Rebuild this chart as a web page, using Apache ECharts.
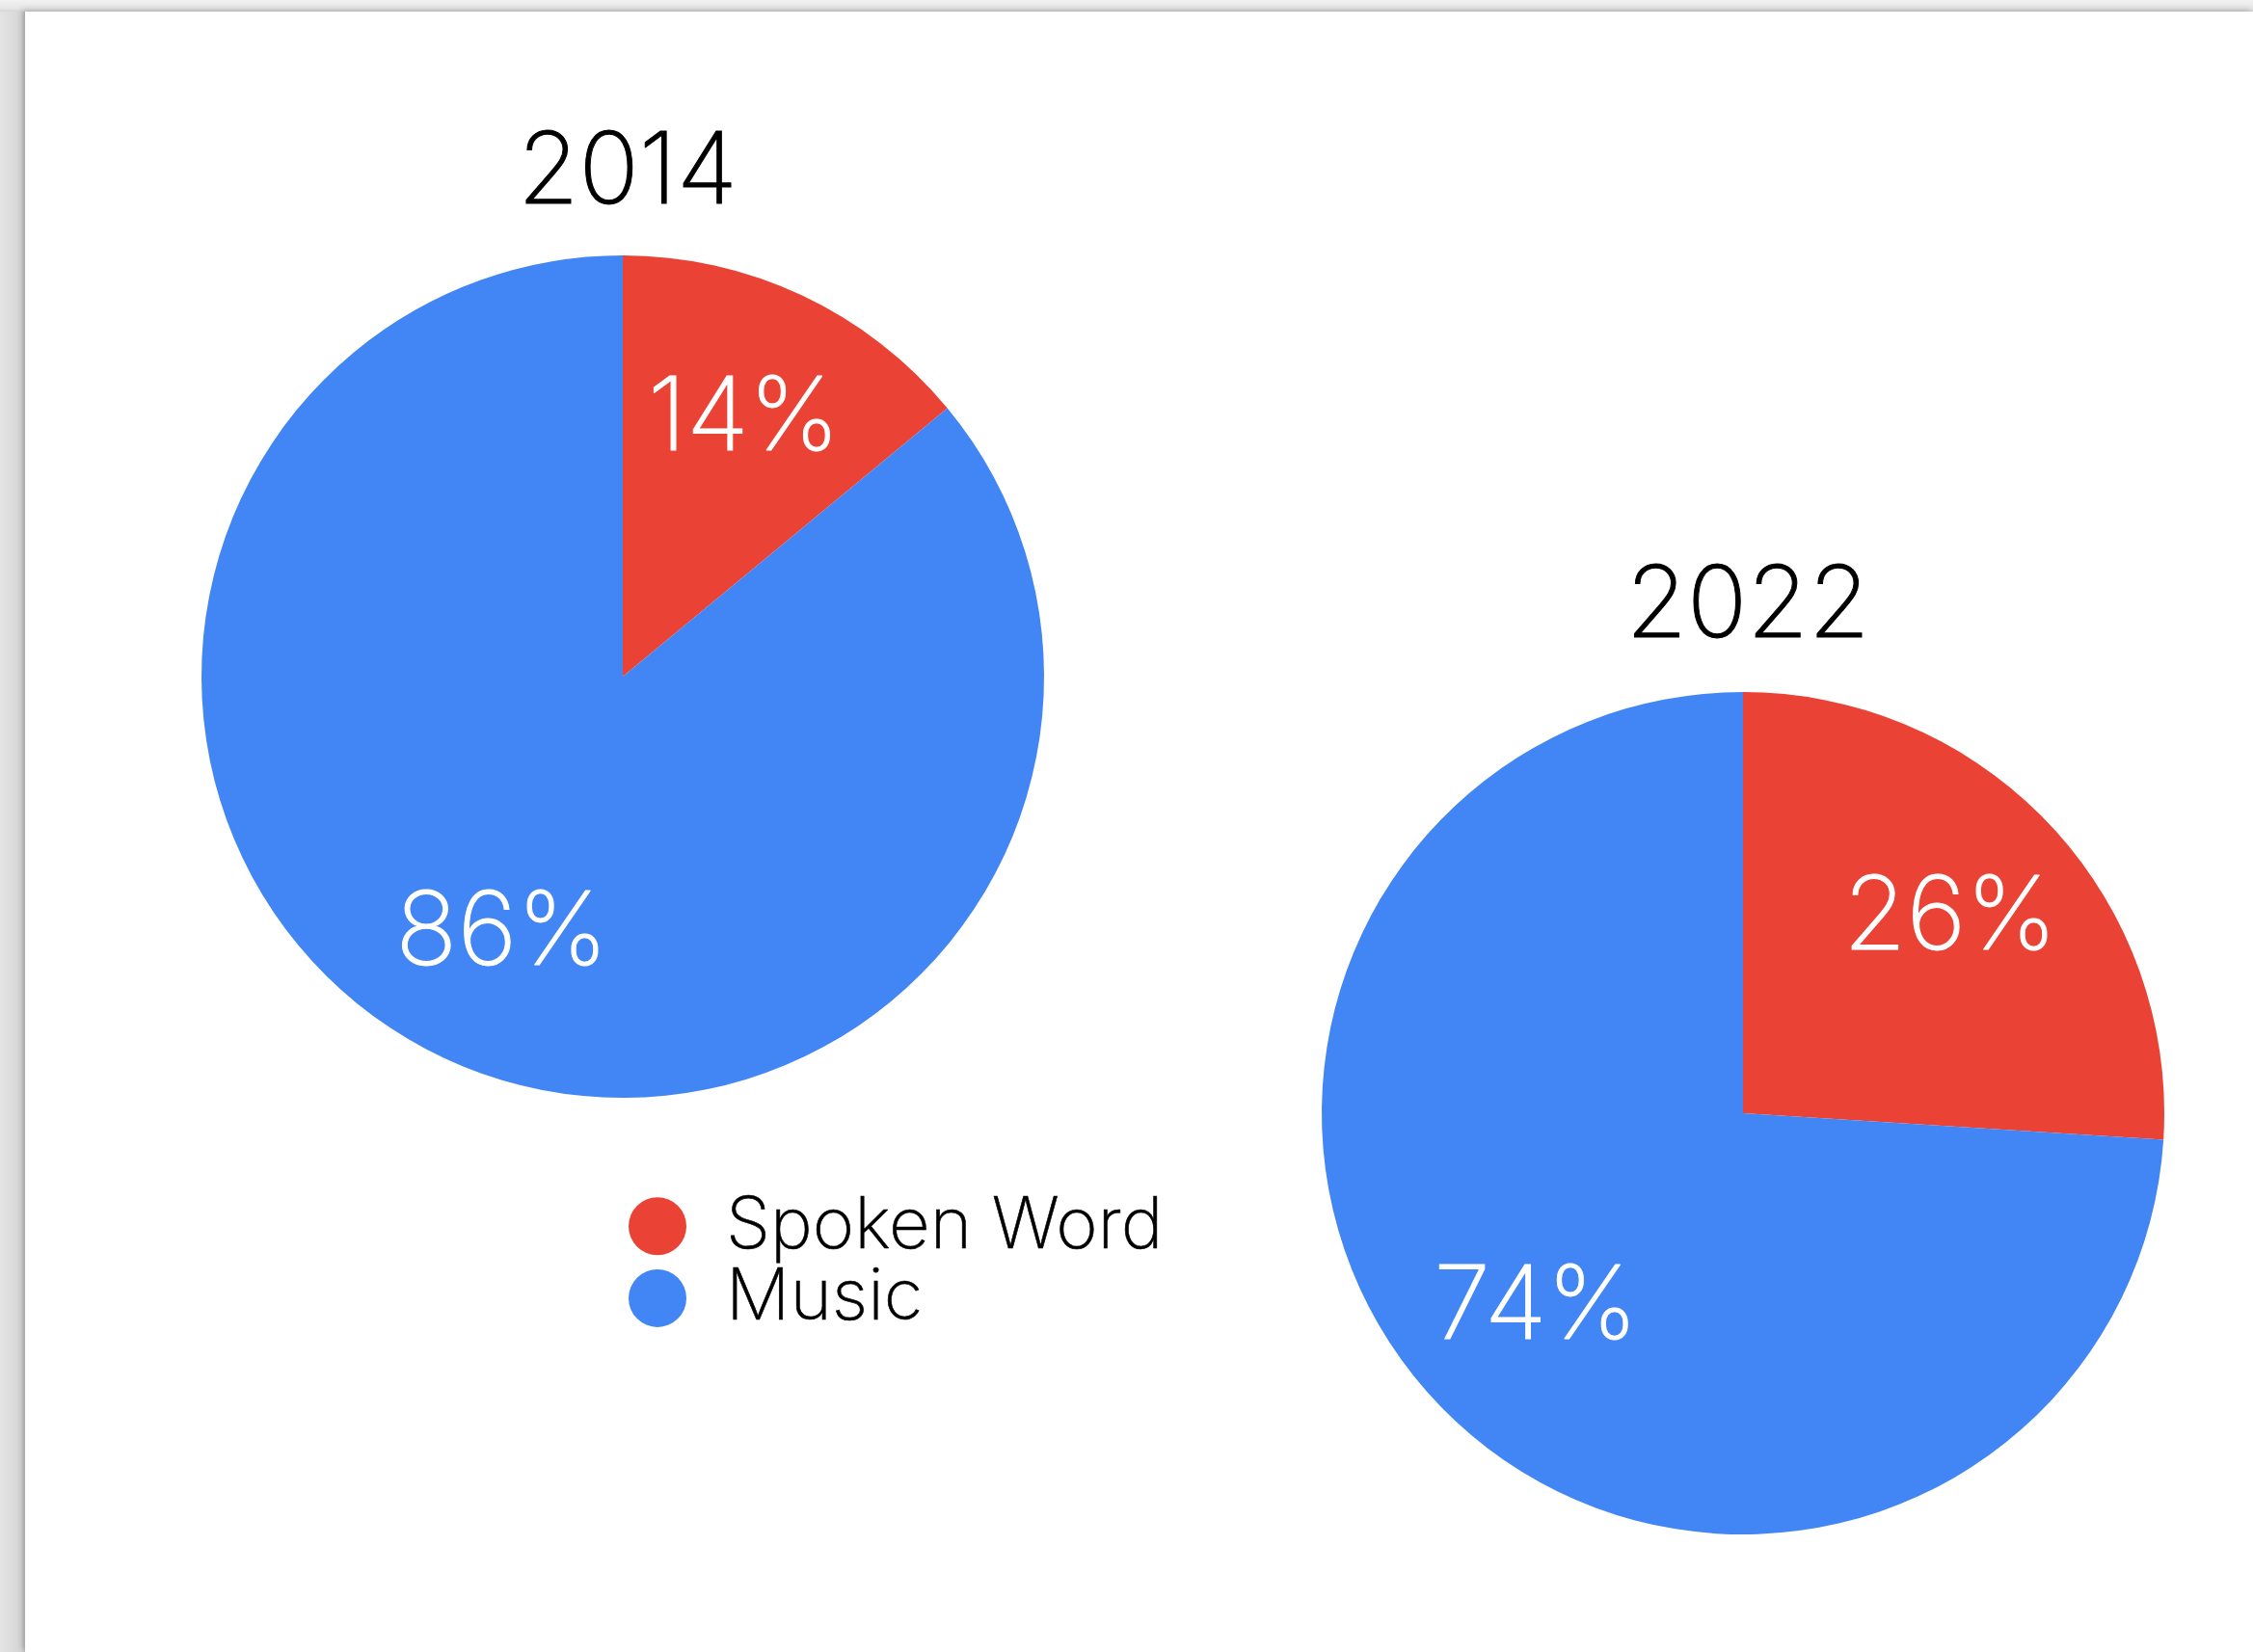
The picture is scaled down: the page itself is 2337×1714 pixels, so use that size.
<!DOCTYPE html>
<html>
<head>
<meta charset="utf-8">
<title>Spoken Word vs Music, 2014 and 2022</title>
<script src="https://cdn.jsdelivr.net/npm/echarts@6/dist/echarts.min.js"></script>
<style>
  html, body { margin: 0; padding: 0; width: 2337px; height: 1714px; overflow: hidden;
    background: linear-gradient(90deg, #e4e4e4 0px, #d6d6d6 22px, #c4c4c4 26px); }
  #card { position: absolute; left: 26px; top: 12px; right: 0; bottom: 0; background: #ffffff;
    box-shadow: -3px -2px 6px rgba(0,0,0,0.18); }
  #top { position: absolute; left: 0; top: 0; right: 0; height: 12px;
    background: linear-gradient(180deg, #f2f2f2 0px, #e6e6e6 9px, #d4d4d4 12px); }
  #chart { position: absolute; left: 0; top: 0; width: 2337px; height: 1714px; }
</style>
</head>
<body>
<div id="top"></div>
<div id="card"></div>
<div id="chart"></div>
<script>
// Share of listening: spoken word vs music
const categories = ['Spoken Word', 'Music'];
const years = ['2014', '2022'];
const share2014 = [14, 86];
const share2022 = [26, 74];
const colors = ['#EA4335', '#4285F4'];

const FONT = 'Inter';
const WEIGHT = 200;
const R = 437;
const centers = [[646, 702], [1808, 1155]];
const shares = [share2014, share2022];

function toData(vals) {
  return categories.map((name, i) => ({ name, value: vals[i] }));
}

const series = [];
shares.forEach((vals, k) => {
  // the visible pie
  series.push({
    type: 'pie',
    center: centers[k],
    radius: [0, R],
    startAngle: 90,
    clockwise: true,
    silent: true,
    label: { show: false },
    labelLine: { show: false },
    itemStyle: { borderWidth: 0 },
    data: toData(vals)
  });
  // a wider, transparent ring carries the percentage labels further out
  series.push({
    type: 'pie',
    center: centers[k],
    radius: [0, R * 1.335],
    startAngle: 90,
    clockwise: true,
    silent: true,
    itemStyle: { color: 'rgba(0,0,0,0)', borderWidth: 0 },
    label: {
      show: true,
      position: 'inside',
      formatter: '{c}%',
      color: '#ffffff',
      fontFamily: FONT,
      fontWeight: WEIGHT,
      fontSize: 106,
      textBorderColor: '#ffffff',
      textBorderWidth: 1
    },
    labelLine: { show: false },
    data: toData(vals)
  });
});

const chart = echarts.init(document.getElementById('chart'), null, { renderer: 'canvas' });
chart.setOption({
  backgroundColor: 'transparent',
  animation: false,
  color: colors,
  title: years.map((y, k) => ({
    text: y,
    left: centers[k][0],
    top: k === 0 ? 124 : 574,
    textAlign: 'center',
    textStyle: { fontFamily: FONT, fontWeight: WEIGHT, fontSize: 103, color: '#000000',
      textBorderColor: '#000000', textBorderWidth: 1 }
  })),
  legend: {
    orient: 'vertical',
    left: 647,
    top: 1230,
    icon: 'circle',
    itemWidth: 60,
    itemHeight: 60,
    itemGap: 0,
    selectedMode: false,
    data: categories,
    textStyle: { fontFamily: FONT, fontWeight: WEIGHT, fontSize: 74, color: '#000000',
      lineHeight: 71, padding: [0, 0, 0, 36], textBorderColor: '#000000', textBorderWidth: 0.6 }
  },
  series
});
</script>
</body>
</html>
